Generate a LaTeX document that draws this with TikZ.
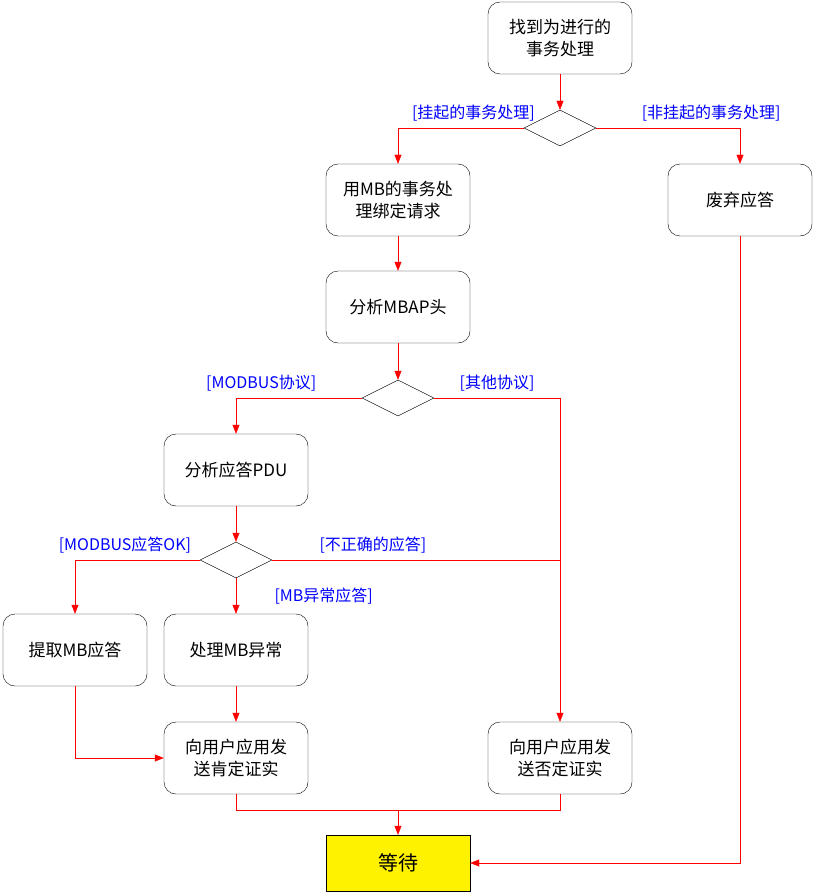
\documentclass[tikz,border=0pt]{standalone}
\usepackage{fontspec}
\setmainfont{Noto Sans CJK SC}
\usetikzlibrary{arrows.meta,shapes.geometric}
\tikzset{
  box/.style={draw,rounded corners=12pt,minimum width=144pt,minimum height=72pt,align=center,font=\fontsize{17}{22}\selectfont},
  dec/.style={draw,diamond,aspect=2,minimum width=72pt,minimum height=36pt,inner sep=0pt},
  flow/.style={draw=red,-{Triangle[length=9pt,width=7pt]}},
  line/.style={draw=red},
  guard/.style={text=blue,font=\fontsize{16}{19}\selectfont}
}
\begin{document}
\begin{tikzpicture}[x=1pt,y=-1pt]
		\useasboundingbox (0,0) rectangle (816,896);
		\node [box] (find) at (560,38) {找到为进行的\\事务处理};
		\node [dec] (d1) at (560,128) {};
		\node [box] (bind) at (398,200) {用MB的事务处\\理绑定请求};
		\node [box] (drop) at (740,200) {废弃应答};
		\node [box] (mbap) at (398,307) {分析MBAP头};
		\node [dec] (d2) at (398,398) {};
		\node [box] (pdu) at (236,470) {分析应答PDU};
		\node [dec] (d3) at (236,560) {};
		\node [box] (take) at (75,650) {提取MB应答};
		\node [box] (exc) at (236,650) {处理MB异常};
		\node [box] (pos) at (236,758) {向用户应用发\\送肯定证实};
		\node [box] (neg) at (560,758) {向用户应用发\\送否定证实};
		\node [draw,fill=yellow,minimum width=144pt,minimum height=56pt,font=\fontsize{20}{24}\selectfont] (wait) at (398,863) {等待};
		% branch points
		\coordinate (j1) at (560,560);
		\coordinate (j2) at (398,810);
		\path [flow] (find) -- (d1);
		\path [flow] (d1.west) -| (bind) node [guard,pos=0.2,above=3pt] {[挂起的事务处理]};
		\path [flow] (d1.east) -| (drop) node [guard,pos=0.4,above=3pt] {[非挂起的事务处理]};
		\path [flow] (bind) -- (mbap);
		\path [flow] (mbap) -- (d2);
		\path [flow] (d2.west) -| (pdu) node [guard,pos=0.4,above=3pt] {[MODBUS协议]};
		\path [flow] (d2.east) -| (neg) node [guard,pos=0.25,above=3pt] {[其他协议]};
		\path [flow] (pdu) -- (d3);
		\path [flow] (d3.west) -| (take) node [guard,pos=0.3,above=3pt] {[MODBUS应答OK]};
		\path [line] (d3.east) -- (j1) node [guard,pos=0.35,above=3pt] {[不正确的应答]};
		\path [flow] (d3) -- (exc) node [guard,pos=0.5,right=35pt] {[MB异常应答]};
		\path [flow] (take) |- (pos);
		\path [flow] (exc) -- (pos);
		\path [line] (pos) |- (j2);
		\path [line] (neg) |- (j2);
		\path [flow] (j2) -- (wait);
		\path [flow] (drop) |- (wait);
		\end{tikzpicture}
\end{document}
